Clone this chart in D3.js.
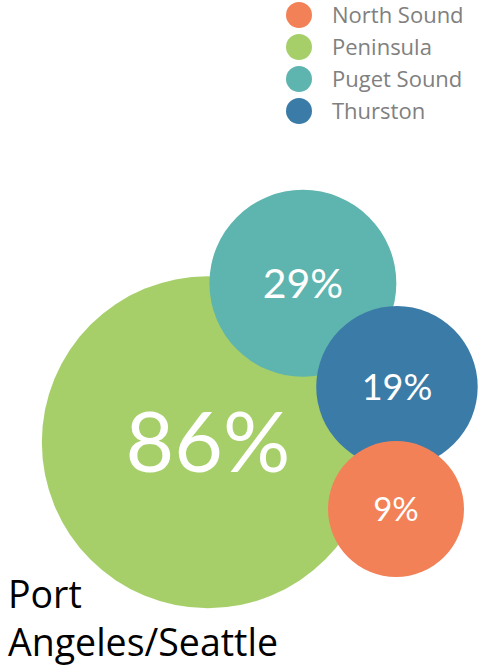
<!DOCTYPE html>
<html><head><meta charset="utf-8">
<script src="https://cdn.jsdelivr.net/npm/d3@7"></script>
<style>html,body{margin:0;padding:0;background:#fff;}svg{display:block;}</style>
</head><body>
<script>
// Data
const categories = ["Peninsula", "Puget Sound", "Thurston", "North Sound"];
const values = [86, 29, 19, 9];
const xPos = [43.3, 63.1, 82.7, 82.5];   // bubble x positions (0-100 units)
const yPos = [33.8, 57.6, 42.1, 23.8];   // bubble y positions (0-100 units)
const legendOrder = ["North Sound", "Peninsula", "Puget Sound", "Thurston"];
const colors = {"North Sound":"#F28157","Peninsula":"#A6CF6A","Puget Sound":"#5EB4AE","Thurston":"#3B7BA8"};
const regionLabel = ["Port", "Angeles/Seattle"];

const W = 480, H = 668;
const svg = d3.select("body").append("svg").attr("width", W).attr("height", H);

const x = d3.scaleLinear().domain([0, 100]).range([0, 480]);
const y = d3.scaleLinear().domain([0, 100]).range([668, 0]);
const r = d3.scaleLinear().domain([9, 86]).range([68, 166]);
const fs = d3.scaleLinear().domain([9, 19, 29, 86]).range([33, 36, 41, 84]);

const data = categories.map((c, i) => ({c, v: values[i], x: xPos[i], y: yPos[i]}));

svg.selectAll("circle.b").data(data).join("circle").attr("class","b")
  .attr("cx", d => x(d.x)).attr("cy", d => y(d.y)).attr("r", d => r(d.v))
  .attr("fill", d => colors[d.c]);

svg.selectAll("text.v").data(data).join("text").attr("class","v")
  .attr("x", d => x(d.x)).attr("y", d => y(d.y)).attr("dy","0.36em")
  .attr("text-anchor","middle").attr("fill","#fff")
  .attr("font-family","Lato, 'Open Sans', sans-serif")
  .attr("font-size", d => fs(d.v))
  .text(d => d.v + "%");

// Legend
const ly = d3.scalePoint().domain(legendOrder).range([15, 111]);
const lg = svg.append("g");
lg.selectAll("circle").data(legendOrder).join("circle")
  .attr("cx", 299).attr("cy", d => ly(d)).attr("r", 13).attr("fill", d => colors[d]);
lg.selectAll("text").data(legendOrder).join("text")
  .attr("x", 332).attr("y", d => ly(d)).attr("dy","0.36em")
  .attr("fill","#808080").attr("font-family","'Open Sans', sans-serif")
  .attr("font-size", 22).text(d => d);

// Region label
svg.selectAll("text.rl").data(regionLabel).join("text").attr("class","rl")
  .attr("x", 8).attr("y", (d, i) => 608 + i * 48)
  .attr("fill","#000").attr("font-family","'Open Sans', sans-serif")
  .attr("font-size", 37.5).text(d => d);
</script>
</body></html>
